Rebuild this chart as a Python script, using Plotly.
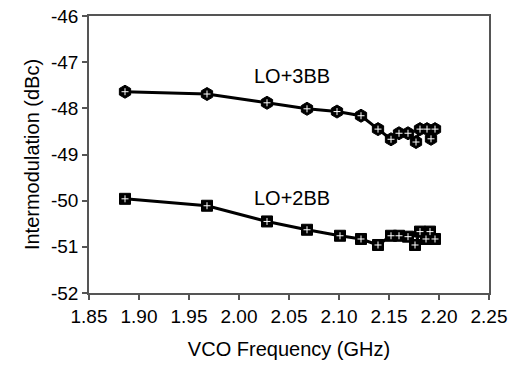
import plotly.graph_objects as go

freq_3bb = [1.886, 1.968, 2.028, 2.068, 2.098, 2.122, 2.139, 2.152, 2.160, 2.169, 2.177, 2.181, 2.188, 2.192, 2.196]
im_3bb = [-47.64, -47.69, -47.88, -48.01, -48.07, -48.16, -48.45, -48.67, -48.54, -48.54, -48.73, -48.45, -48.45, -48.66, -48.45]

freq_2bb = [1.886, 1.968, 2.028, 2.068, 2.101, 2.122, 2.139, 2.152, 2.160, 2.169, 2.176, 2.181, 2.187, 2.191, 2.196]
im_2bb = [-49.96, -50.11, -50.45, -50.63, -50.76, -50.83, -50.96, -50.76, -50.76, -50.78, -50.96, -50.67, -50.83, -50.67, -50.83]

x_ticks = [1.85, 1.90, 1.95, 2.00, 2.05, 2.10, 2.15, 2.20, 2.25]
y_ticks = [-52, -51, -50, -49, -48, -47, -46]

labels = ["LO+3BB", "LO+2BB"]
label_pos = [(2.013, -47.31), (2.013, -49.94)]

FONT = "Liberation Sans, Arial, sans-serif"
AX = "#555555"

fig = go.Figure()
for xs, ys, sym, sz in [(freq_3bb, im_3bb, "hexagon", 13), (freq_2bb, im_2bb, "square", 11)]:
    fig.add_trace(go.Scatter(
        x=xs, y=ys, mode="lines+markers",
        line=dict(color="black", width=3),
        marker=dict(symbol=sym, size=sz, color="black", line=dict(color="black", width=1)),
        showlegend=False, hoverinfo="skip"))
    fig.add_trace(go.Scatter(
        x=xs, y=ys, mode="markers",
        marker=dict(symbol="cross-thin", size=5, color="white", line=dict(color="white", width=1)),
        showlegend=False, hoverinfo="skip"))

for text, (lx, ly) in zip(labels, label_pos):
    fig.add_annotation(x=lx, y=ly, text=text, showarrow=False, xanchor="left", yanchor="middle",
                       font=dict(family=FONT, size=20, color="black"))

fig.update_layout(
    width=511, height=367,
    margin=dict(l=89, r=22, t=16, b=74, autoexpand=False),
    paper_bgcolor="white", plot_bgcolor="white",
    font=dict(family=FONT, size=19, color="black"),
)
fig.update_xaxes(
    range=[1.85, 2.25], tickvals=x_ticks, ticktext=[f"{v:.2f}" for v in x_ticks],
    showline=True, linecolor=AX, linewidth=1.5, mirror=True,
    ticks="outside", ticklen=5, tickcolor=AX, tickwidth=1.5,
    showgrid=False, zeroline=False, automargin=False,
    title=dict(text="VCO Frequency (GHz)", font=dict(size=20), standoff=16),
)
fig.update_yaxes(
    range=[-52, -46], tickvals=y_ticks, ticktext=[str(v) for v in y_ticks],
    showline=True, linecolor=AX, linewidth=1.5, mirror=True,
    ticks="outside", ticklen=5, tickcolor=AX, tickwidth=1.5,
    showgrid=False, zeroline=False, automargin=False,
    title=dict(text="Intermodulation (dBc)", font=dict(size=20), standoff=6),
)

fig.write_html("out.html", config={"displayModeBar": False},
               post_script="document.body.style.margin='0';document.body.style.overflow='hidden';")
